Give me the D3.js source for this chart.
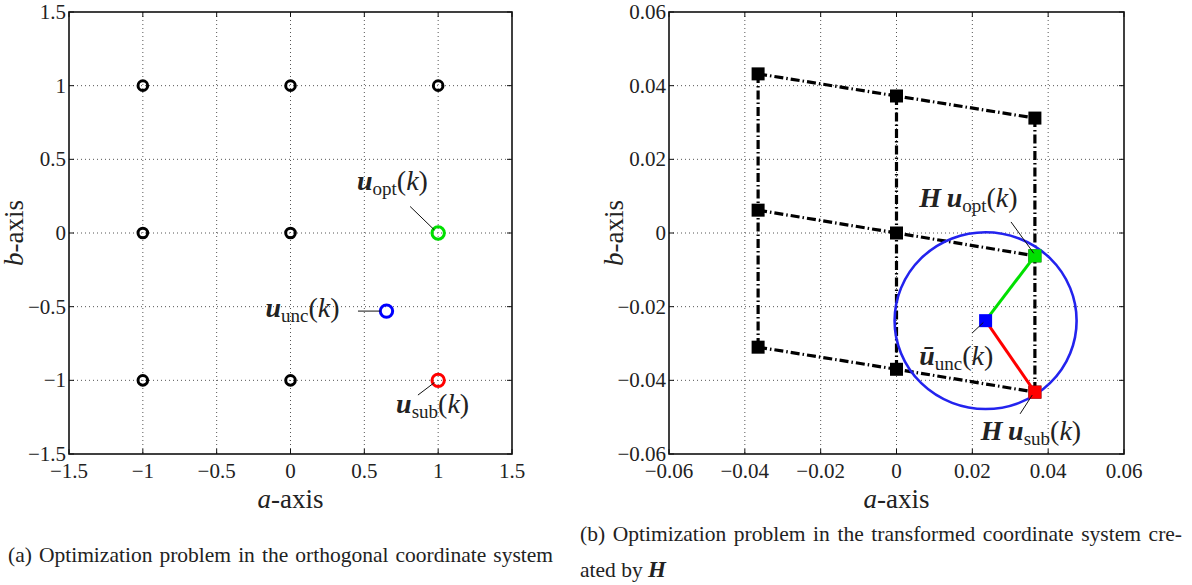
<!DOCTYPE html>
<html>
<head>
<meta charset="utf-8">
<script src="https://cdn.jsdelivr.net/npm/d3@7"></script>
<style>
  body { margin: 0; background: #fff; }
  svg { display: block; }
  .grid { stroke: #555; stroke-width: 1; stroke-dasharray: 1,3; fill: none; }
  .frame { fill: none; stroke: #111; stroke-width: 1.6; }
  .tick { stroke: #111; stroke-width: 1; }
  .leader { stroke: #111; stroke-width: 1; }
  .hline { stroke: #000; stroke-width: 3.2; stroke-dasharray: 9,3,1.5,3; fill: none; }
</style>
</head>
<body>
<svg id="fig" width="1192" height="585"></svg>
<script>
const svg = d3.select("#fig");
const FONT = '"Liberation Serif"';

// ---- data: (a) orthogonal coordinate system ----
const aTicks = [-1.5, -1, -0.5, 0, 0.5, 1, 1.5];
const bTicks = [-1.5, -1, -0.5, 0, 0.5, 1, 1.5];
const blackPoints = [[-1, 1], [0, 1], [1, 1], [-1, 0], [0, 0], [-1, -1], [0, -1]];
const uOpt = [1, 0];
const uSub = [1, -1];
const uUnc = [0.65, -0.53];

// ---- data: (b) transformed by H ----
const hTicks = [-0.06, -0.04, -0.02, 0, 0.02, 0.04, 0.06];
const hRows = [
  [[-0.0365, 0.0432], [0, 0.0372], [0.0365, 0.0312]],
  [[-0.0365, 0.0062], [0, 0], [0.0365, -0.0062]],
  [[-0.0365, -0.031], [0, -0.037], [0.0365, -0.0432]]
];
const hUOpt = [0.0365, -0.0062];
const hUSub = [0.0365, -0.0432];
const hUUnc = [0.0235, -0.0238];
const hRadius = 0.024;

const fmt = (v) => (v < 0 ? "\u2212" : "") + String(Math.abs(v));
const txt = (sel) => sel.append("text").style("font-family", FONT).attr("fill", "#222");

function axesBox(x, y, ticksX, ticksY) {
  const g = svg.append("g");
  const [x0, x1] = x.range();
  const [y0, y1] = y.range(); // y0 bottom, y1 top
  // grid
  g.selectAll("line.gx").data(ticksX.slice(1, -1)).join("line")
    .attr("class", "grid").attr("x1", d => x(d)).attr("x2", d => x(d))
    .attr("y1", y1).attr("y2", y0);
  g.selectAll("line.gy").data(ticksY.slice(1, -1)).join("line")
    .attr("class", "grid").attr("y1", d => y(d)).attr("y2", d => y(d))
    .attr("x1", x0).attr("x2", x1);
  // inward ticks on all sides
  const tl = 5;
  ticksX.forEach(t => {
    g.append("line").attr("class", "tick").attr("x1", x(t)).attr("x2", x(t)).attr("y1", y0).attr("y2", y0 - tl);
    g.append("line").attr("class", "tick").attr("x1", x(t)).attr("x2", x(t)).attr("y1", y1).attr("y2", y1 + tl);
  });
  ticksY.forEach(t => {
    g.append("line").attr("class", "tick").attr("y1", y(t)).attr("y2", y(t)).attr("x1", x0).attr("x2", x0 + tl);
    g.append("line").attr("class", "tick").attr("y1", y(t)).attr("y2", y(t)).attr("x1", x1).attr("x2", x1 - tl);
  });
  g.append("rect").attr("class", "frame")
    .attr("x", x0).attr("y", y1).attr("width", x1 - x0).attr("height", y0 - y1);
  // tick labels
  ticksX.forEach(t => {
    txt(g).attr("x", x(t)).attr("y", y0 + 24).attr("text-anchor", "middle")
      .attr("font-size", 21).text(fmt(t));
  });
  ticksY.forEach(t => {
    txt(g).attr("x", x0 - 3).attr("y", y(t) + 7).attr("text-anchor", "end")
      .attr("font-size", 21).text(fmt(t));
  });
  // axis titles
  const xl = txt(g).attr("x", (x0 + x1) / 2).attr("y", y0 + 54)
    .attr("text-anchor", "middle").attr("font-size", 27);
  xl.append("tspan").attr("font-style", "italic").text("a");
  xl.append("tspan").text("-axis");
  const yl = txt(g)
    .attr("transform", `translate(${x0 - 46},${(y0 + y1) / 2}) rotate(-90)`)
    .attr("text-anchor", "middle").attr("font-size", 27);
  yl.append("tspan").attr("font-style", "italic").text("b");
  yl.append("tspan").text("-axis");
  return g;
}

// math label: [H] u_sub (k)
function mathLabel(g, px, py, sub, withH, bar) {
  const t = txt(g).attr("x", px).attr("y", py).attr("font-size", 28);
  if (withH) t.append("tspan").attr("font-weight", "bold").attr("font-style", "italic").text("H\u2009");
  t.append("tspan").attr("font-weight", "bold").attr("font-style", "italic").text(bar ? "\u016B" : "u");
  t.append("tspan").attr("font-size", 19).attr("dy", 5).text(sub);
  t.append("tspan").attr("dy", -5).text("(");
  t.append("tspan").attr("font-style", "italic").text("k");
  t.append("tspan").text(")");
}

function leader(g, x, y, from, to) {
  g.append("line").attr("class", "leader")
    .attr("x1", x(from[0])).attr("y1", y(from[1]))
    .attr("x2", x(to[0])).attr("y2", y(to[1]));
}

// ---------- panel (a) ----------
const xA = d3.scaleLinear().domain([-1.5, 1.5]).range([69, 512]);
const yA = d3.scaleLinear().domain([-1.5, 1.5]).range([454, 12]);
const gA = axesBox(xA, yA, aTicks, bTicks);

gA.selectAll("circle.pt").data(blackPoints).join("circle")
  .attr("cx", d => xA(d[0])).attr("cy", d => yA(d[1])).attr("r", 4.8)
  .attr("fill", "none").attr("stroke", "#000").attr("stroke-width", 3);
[[uOpt, "#00e000"], [uSub, "#ff0000"], [uUnc, "#0000ff"]].forEach(([p, c]) => {
  gA.append("circle").attr("cx", xA(p[0])).attr("cy", yA(p[1])).attr("r", 6.2)
    .attr("fill", "none").attr("stroke", c).attr("stroke-width", 3);
});
leader(gA, xA, yA, [0.81, 0.18], [0.975, 0.02]);
leader(gA, xA, yA, [0.457, -0.53], [0.61, -0.53]);
leader(gA, xA, yA, [0.863, -1.10], [0.975, -1.015]);
mathLabel(gA, xA(0.45), yA(0.292), "opt", false, false);
mathLabel(gA, xA(-0.17), yA(-0.57), "unc", false, false);
mathLabel(gA, xA(0.715), yA(-1.222), "sub", false, false);

// ---------- panel (b) ----------
const xB = d3.scaleLinear().domain([-0.06, 0.06]).range([669, 1124]);
const yB = d3.scaleLinear().domain([-0.06, 0.06]).range([454, 12]);
const gB = axesBox(xB, yB, hTicks, hTicks);

const line = d3.line().x(d => xB(d[0])).y(d => yB(d[1]));
const hCols = [0, 1, 2].map(i => hRows.map(r => r[i]));
gB.selectAll("path.row").data(hRows).join("path").attr("class", "hline").attr("d", line);
gB.selectAll("path.col").data(hCols).join("path").attr("class", "hline").attr("d", line);

const sq = 13;
gB.selectAll("rect.pt").data(hRows.flat()).join("rect")
  .attr("x", d => xB(d[0]) - sq / 2).attr("y", d => yB(d[1]) - sq / 2)
  .attr("width", sq).attr("height", sq).attr("fill", "#000");

gB.append("ellipse")
  .attr("cx", xB(hUUnc[0])).attr("cy", yB(hUUnc[1]))
  .attr("rx", xB(hRadius) - xB(0)).attr("ry", yB(0) - yB(hRadius))
  .attr("fill", "none").attr("stroke", "#2323ee").attr("stroke-width", 2.6);

gB.append("line").attr("x1", xB(hUUnc[0])).attr("y1", yB(hUUnc[1]))
  .attr("x2", xB(hUOpt[0])).attr("y2", yB(hUOpt[1]))
  .attr("stroke", "#00e000").attr("stroke-width", 3);
gB.append("line").attr("x1", xB(hUUnc[0])).attr("y1", yB(hUUnc[1]))
  .attr("x2", xB(hUSub[0])).attr("y2", yB(hUSub[1]))
  .attr("stroke", "#ff0000").attr("stroke-width", 3);

[[hUOpt, "#00e000"], [hUSub, "#ff0000"], [hUUnc, "#0000ff"]].forEach(([p, c]) => {
  gB.append("rect").attr("x", xB(p[0]) - sq / 2).attr("y", yB(p[1]) - sq / 2)
    .attr("width", sq).attr("height", sq).attr("fill", c);
});

leader(gB, xB, yB, [0.0302, 0.003], [0.0362, -0.0055]);
leader(gB, xB, yB, [0.0199, -0.0272], [0.0229, -0.0243]);
leader(gB, xB, yB, [0.0326, -0.0491], [0.0358, -0.0440]);
mathLabel(gB, xB(0.006), yB(0.0071), "opt", true, false);
mathLabel(gB, xB(0.006), yB(-0.0358), "unc", false, true);
mathLabel(gB, xB(0.0222), yB(-0.0562), "sub", true, false);

// ---------- captions (justified with word spacing) ----------
function justify(t, width) {
  const n = (t.text().match(/ /g) || []).length;
  const w = t.node().getComputedTextLength();
  if (n > 0 && w < width) t.attr("word-spacing", (width - w) / n);
  else if (w > width) t.attr("textLength", width).attr("lengthAdjust", "spacingAndGlyphs");
}
const capA = txt(svg).attr("x", 8).attr("y", 562).attr("font-size", 21.5)
  .text("(a) Optimization problem in the orthogonal coordinate system");
justify(capA, 545);
const capB = txt(svg).attr("x", 580).attr("y", 541).attr("font-size", 21.5)
  .text("(b) Optimization problem in the transformed coordinate system cre-");
justify(capB, 602);
const cap2 = txt(svg).attr("x", 580).attr("y", 577).attr("font-size", 21.5);
cap2.append("tspan").text("ated by ");
cap2.append("tspan").attr("font-weight", "bold").attr("font-style", "italic").attr("font-size", 23).text("H");
</script>
</body>
</html>
